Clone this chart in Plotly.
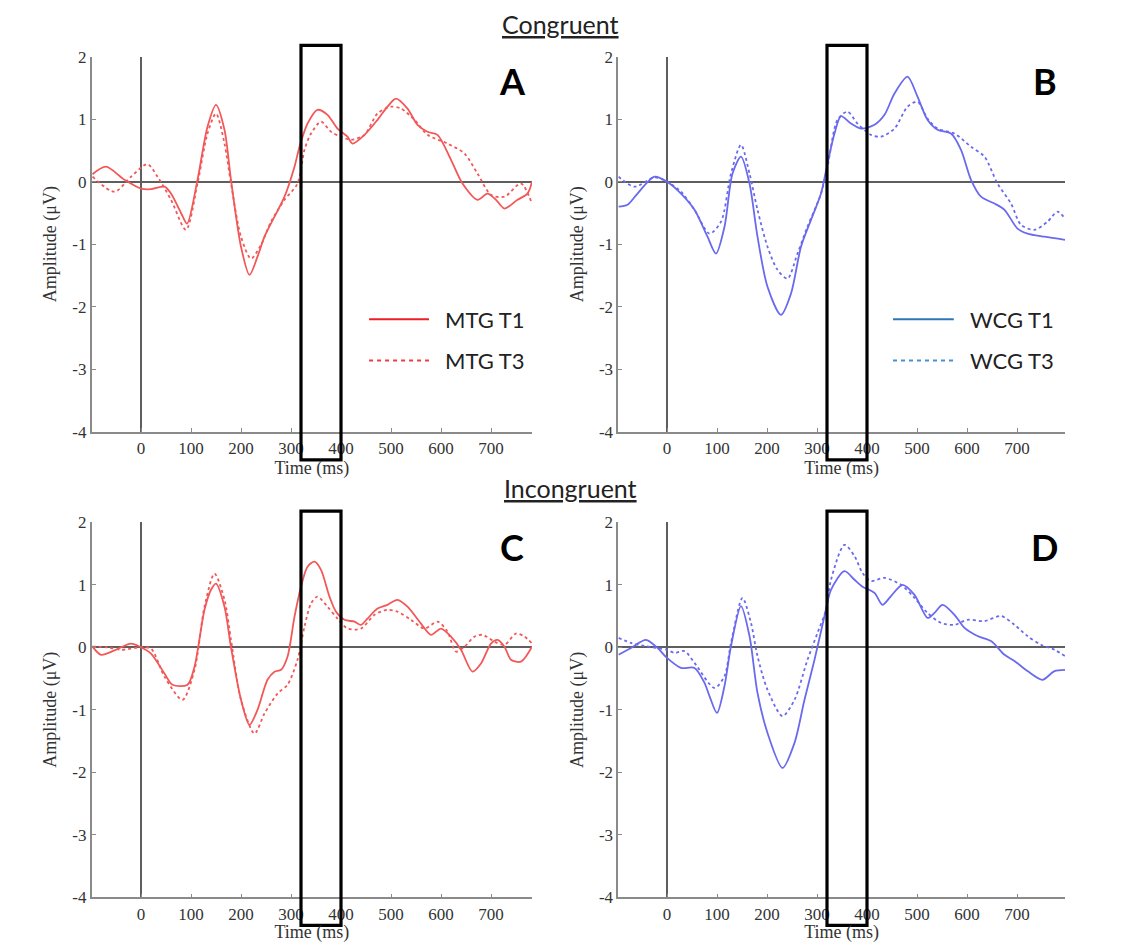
import plotly.graph_objects as go

# ---------------- data ----------------
A_T1_t = [-97, -70, -33, 0, 20, 47, 60, 80, 92, 113, 133, 150, 167, 180, 200, 217, 233, 247, 267, 287, 307, 317, 333, 353, 373, 393, 413, 423, 447, 473, 493, 510, 533, 553, 573, 593, 620, 643, 673, 693, 710, 727, 753, 773, 782]
A_T1_v = [0.12, 0.24, 0.03, -0.11, -0.12, -0.08, -0.19, -0.5, -0.67, 0.03, 0.88, 1.23, 0.83, 0.03, -1.04, -1.49, -1.2, -0.88, -0.56, -0.24, 0.24, 0.56, 0.93, 1.15, 1.07, 0.85, 0.72, 0.61, 0.75, 0.99, 1.2, 1.33, 1.17, 0.91, 0.8, 0.75, 0.35, -0.03, -0.29, -0.19, -0.29, -0.43, -0.29, -0.19, 0.0]

A_T3_t = [-97, -53, -20, 13, 33, 60, 90, 113, 133, 150, 167, 180, 200, 220, 240, 260, 287, 313, 327, 340, 360, 380, 400, 420, 447, 473, 500, 520, 547, 573, 613, 647, 673, 700, 727, 760, 782]
A_T3_v = [0.08, -0.16, 0.08, 0.28, 0.08, -0.29, -0.77, -0.03, 0.77, 1.09, 0.61, -0.03, -0.88, -1.23, -1.01, -0.64, -0.29, -0.03, 0.51, 0.77, 0.96, 0.8, 0.72, 0.67, 0.75, 1.09, 1.2, 1.17, 0.99, 0.75, 0.61, 0.45, 0.13, -0.21, -0.24, -0.03, -0.35]

B_T1_t = [-97, -79, -59, -25, 0, 28, 55, 81, 98, 115, 131, 148, 165, 181, 201, 228, 248, 268, 288, 308, 321, 335, 348, 368, 388, 415, 435, 455, 481, 501, 521, 541, 568, 588, 608, 628, 655, 675, 701, 721, 755, 796]
B_T1_v = [-0.4, -0.37, -0.19, 0.08, 0.0, -0.19, -0.45, -0.88, -1.15, -0.72, 0.13, 0.4, -0.03, -0.88, -1.68, -2.13, -1.79, -1.04, -0.61, -0.19, 0.29, 0.77, 1.05, 0.93, 0.85, 0.91, 1.07, 1.41, 1.68, 1.36, 0.99, 0.83, 0.77, 0.51, 0.03, -0.24, -0.35, -0.45, -0.75, -0.83, -0.88, -0.93]

B_T3_t = [-97, -65, -25, 0, 28, 55, 85, 108, 128, 148, 165, 181, 201, 221, 241, 261, 281, 308, 321, 341, 361, 381, 408, 428, 455, 481, 501, 521, 541, 575, 608, 635, 661, 688, 708, 735, 761, 781, 796]
B_T3_v = [0.08, -0.08, 0.07, 0.0, -0.16, -0.45, -0.83, -0.64, 0.13, 0.59, 0.13, -0.45, -1.04, -1.41, -1.55, -1.15, -0.72, -0.19, 0.24, 0.99, 1.12, 0.93, 0.75, 0.72, 0.85, 1.2, 1.28, 1.01, 0.85, 0.77, 0.56, 0.4, -0.03, -0.35, -0.69, -0.77, -0.64, -0.48, -0.59]

C_T1_t = [-97, -80, -53, -20, 0, 20, 47, 63, 93, 107, 127, 140, 150, 167, 180, 200, 217, 233, 253, 267, 280, 293, 307, 320, 333, 347, 360, 377, 390, 407, 427, 440, 453, 473, 493, 513, 533, 560, 580, 600, 620, 640, 663, 680, 700, 713, 727, 740, 760, 782]
C_T1_v = [0.01, -0.12, -0.05, 0.06, 0.0, -0.1, -0.42, -0.6, -0.6, -0.31, 0.6, 0.92, 1.02, 0.65, 0.0, -0.84, -1.24, -1.0, -0.52, -0.39, -0.36, -0.15, 0.49, 0.97, 1.29, 1.37, 1.24, 0.81, 0.57, 0.44, 0.41, 0.36, 0.46, 0.62, 0.68, 0.76, 0.65, 0.38, 0.2, 0.3, 0.17, -0.04, -0.39, -0.26, 0.06, 0.12, 0.01, -0.2, -0.23, 0.01]

C_T3_t = [-97, -67, -40, 0, 20, 47, 83, 107, 127, 147, 167, 180, 200, 227, 247, 273, 293, 313, 327, 340, 353, 373, 393, 413, 440, 467, 493, 513, 540, 567, 593, 613, 630, 647, 667, 683, 707, 727, 750, 767, 782]
C_T3_v = [0.01, 0.0, -0.04, 0.0, -0.02, -0.47, -0.84, -0.36, 0.65, 1.18, 0.76, 0.12, -0.84, -1.38, -1.06, -0.74, -0.6, -0.2, 0.33, 0.7, 0.81, 0.65, 0.46, 0.3, 0.3, 0.52, 0.6, 0.57, 0.44, 0.3, 0.41, 0.25, -0.07, 0.01, 0.17, 0.2, 0.09, 0.04, 0.22, 0.17, 0.06]

D_T1_t = [-97, -72, -42, -19, 0, 28, 55, 75, 85, 100, 115, 128, 148, 165, 181, 201, 231, 255, 275, 295, 315, 328, 355, 375, 391, 415, 431, 448, 471, 495, 521, 535, 551, 575, 595, 621, 648, 675, 695, 721, 751, 775, 796]
D_T1_v = [-0.12, -0.01, 0.12, -0.01, -0.17, -0.33, -0.33, -0.57, -0.78, -1.05, -0.62, 0.02, 0.66, 0.18, -0.73, -1.37, -1.93, -1.53, -0.84, -0.2, 0.5, 0.92, 1.22, 1.08, 0.97, 0.87, 0.68, 0.82, 1.0, 0.84, 0.47, 0.55, 0.68, 0.52, 0.31, 0.18, 0.1, -0.12, -0.22, -0.38, -0.52, -0.38, -0.36]

D_T3_t = [-97, -72, -45, 0, 15, 35, 55, 95, 115, 128, 151, 168, 181, 201, 231, 255, 281, 301, 318, 328, 355, 375, 391, 408, 435, 468, 495, 521, 548, 575, 601, 635, 668, 695, 721, 748, 775, 796]
D_T3_v = [0.15, 0.07, 0.02, -0.04, -0.09, -0.06, -0.25, -0.65, -0.46, 0.07, 0.79, 0.39, -0.14, -0.68, -1.1, -0.84, -0.2, 0.23, 0.6, 1.08, 1.64, 1.46, 1.19, 1.06, 1.11, 1.0, 0.79, 0.55, 0.39, 0.36, 0.44, 0.42, 0.5, 0.36, 0.18, 0.04, -0.04, -0.14]

x_tickvals = [0, 100, 200, 300, 400, 500, 600, 700]
y_tickvals = [-4, -3, -2, -1, 0, 1, 2]
y_ticktext = ["-4", "-3", "-2", "-1", "0", "1", "2"]   # plain hyphens as in the original
window_ms = [320, 400]          # highlighted analysis window
panel_letters = ["A", "B", "C", "D"]
legend_names = [["MTG T1", "MTG T3"], ["WCG T1", "WCG T3"]]
section_titles = ["Congruent", "Incongruent"]

# ---------------- layout geometry ----------------
# page has an 8px body margin, so the figure is 16px smaller than the window
OFF = 8
W, H = 1146 - 2 * OFF, 951 - 2 * OFF


def px_x(p):
    return (p - OFF) / W


def px_y(p):
    return 1 - (p - OFF) / H


X_DOM = [[px_x(91.7), px_x(532)], [px_x(618.3), px_x(1065)]]
Y_DOM = [[px_y(431.7), px_y(56.7)], [px_y(897.3), px_y(522.3)]]
X_RANGE = [[-98.6, 782], [-97.4, 796]]
Y_RANGE = [-4, 2]

RED = "#f25858"
BLUE = "#6a6aef"
LEG_RED = "#ee1c24"
LEG_BLUE = "#2e75b6"
SERIF = "Liberation Serif, Times New Roman, serif"
SANS = "Lato, Open Sans, sans-serif"

panels = [
    # (row, col, t1_t, t1_v, t3_t, t3_v, colour)
    (0, 0, A_T1_t, A_T1_v, A_T3_t, A_T3_v, RED),
    (0, 1, B_T1_t, B_T1_v, B_T3_t, B_T3_v, BLUE),
    (1, 0, C_T1_t, C_T1_v, C_T3_t, C_T3_v, RED),
    (1, 1, D_T1_t, D_T1_v, D_T3_t, D_T3_v, BLUE),
]

fig = go.Figure()
layout = dict(
    width=W, height=H, margin=dict(l=0, r=0, t=0, b=0, autoexpand=False),
    paper_bgcolor="white", plot_bgcolor="white", showlegend=False,
)
shapes, annotations = [], []


def to_paper(val, rng, dom):
    return dom[0] + (val - rng[0]) / (rng[1] - rng[0]) * (dom[1] - dom[0])


for i, (r, c, t1t, t1v, t3t, t3v, col) in enumerate(panels):
    n = i + 1
    xa = "x" if n == 1 else f"x{n}"
    ya = "y" if n == 1 else f"y{n}"
    names = legend_names[c]
    fig.add_trace(go.Scatter(x=t1t, y=t1v, mode="lines", name=names[0], xaxis=xa, yaxis=ya,
                             line=dict(color=col, width=1.8, shape="spline", smoothing=0.8)))
    fig.add_trace(go.Scatter(x=t3t, y=t3v, mode="lines", name=names[1], xaxis=xa, yaxis=ya,
                             line=dict(color=col, width=1.8, dash="3px,3px", shape="spline", smoothing=0.8)))
    axis_common = dict(showline=True, linecolor="#8a8a8a", linewidth=1.6, mirror=False,
                       ticks="inside", ticklen=4, tickcolor="#8a8a8a", tickwidth=1.3,
                       showgrid=False, zeroline=True, zerolinecolor="#5e5e5e", zerolinewidth=1.5,
                       tickfont=dict(family=SERIF, size=17, color="#333333"), fixedrange=True,
                       automargin=False)
    layout["xaxis" if n == 1 else f"xaxis{n}"] = dict(
        axis_common, domain=X_DOM[c], range=X_RANGE[c], anchor=ya, tickvals=x_tickvals,
        title=dict(text="Time (ms)", font=dict(family=SERIF, size=18, color="#333333"), standoff=4))
    layout["yaxis" if n == 1 else f"yaxis{n}"] = dict(
        axis_common, domain=Y_DOM[r], range=Y_RANGE, anchor=xa, tickvals=y_tickvals,
        ticktext=y_ticktext,
        title=dict(text="Amplitude (\u03bcV)", font=dict(family=SERIF, size=18, color="#333333"), standoff=11))

    # window box, mapped through the panel's own axis scales
    x0 = to_paper(window_ms[0], X_RANGE[c], X_DOM[c])
    x1 = to_paper(window_ms[1], X_RANGE[c], X_DOM[c])
    y0 = to_paper(-4.45, Y_RANGE, Y_DOM[r])
    y1 = to_paper(2.18, Y_RANGE, Y_DOM[r])
    shapes.append(dict(type="rect", xref="paper", yref="paper", x0=x0, x1=x1, y0=y0, y1=y1,
                       line=dict(color="black", width=3.2), fillcolor="rgba(0,0,0,0)", layer="above"))

    # panel letter
    annotations.append(dict(xref=f"{xa} domain", yref=f"{ya} domain", x=0.955, y=0.935,
                            text=f"<b>{panel_letters[i]}</b>", showarrow=False,
                            xanchor="center", yanchor="middle",
                            font=dict(family=SANS, size=36, color="black")))

# custom legends (top row only), drawn with long sample lines like the original
for c in range(2):
    ya = "y" if c == 0 else "y2"
    xa = "x" if c == 0 else "x2"
    leg_col = LEG_RED if c == 0 else LEG_BLUE
    lx0 = 0.63 if c == 0 else 0.615
    for k, dash in enumerate(["solid", "4px,4px"]):
        yy = 0.3 - k * 0.11
        shapes.append(dict(type="line", xref=f"{xa} domain", yref=f"{ya} domain",
                           x0=lx0, x1=lx0 + 0.136, y0=yy, y1=yy,
                           line=dict(color=leg_col if k == 0 else ("#ee3a40" if c == 0 else "#4a90d0"),
                                     width=2, dash=dash)))
        annotations.append(dict(xref=f"{xa} domain", yref=f"{ya} domain", x=lx0 + 0.168, y=yy,
                                text=legend_names[c][k], showarrow=False, xanchor="left", yanchor="middle",
                                font=dict(family=SANS, size=22, color="#222222")))

# section titles
annotations.append(dict(xref="paper", yref="paper", x=px_x(560), y=1.0, text=f"<u>{section_titles[0]}</u>",
                        showarrow=False, xanchor="center", yanchor="top", borderpad=0,
                        font=dict(family=SANS, size=25, color="#222222")))
annotations.append(dict(xref="paper", yref="paper", x=px_x(570), y=px_y(488), text=f"<u>{section_titles[1]}</u>",
                        showarrow=False, xanchor="center", yanchor="middle",
                        font=dict(family=SANS, size=25, color="#222222")))

layout["shapes"] = shapes
layout["annotations"] = annotations
fig.update_layout(**layout)
fig.write_html("out.html")
